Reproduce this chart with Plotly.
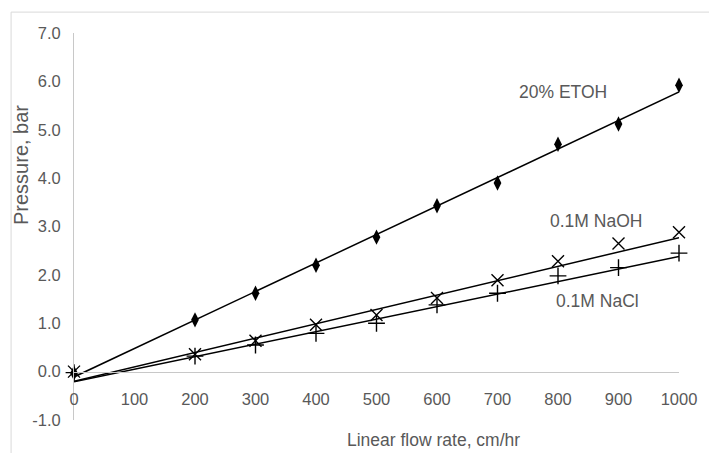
import numpy as np
import plotly.graph_objects as go

# ---- data ----
flow_rate = [0, 200, 300, 400, 500, 600, 700, 800, 900, 1000]          # cm/hr
etoh_20 = [-0.03, 1.07, 1.62, 2.20, 2.78, 3.43, 3.90, 4.70, 5.12, 5.92]  # bar
naoh_01 = [0.0, 0.36, 0.64, 0.97, 1.17, 1.52, 1.89, 2.28, 2.65, 2.88]
nacl_01 = [-0.02, 0.32, 0.55, 0.79, 1.00, 1.38, 1.62, 1.98, 2.15, 2.45]

# linear trendline coefficients (slope, intercept)
trend_etoh = (0.00589, -0.11)
trend_naoh = (0.00297, -0.20)
trend_nacl = (0.00259, -0.21)

series_names = ["20% ETOH", "0.1M NaOH", "0.1M NaCl"]
x_ticks = [0, 100, 200, 300, 400, 500, 600, 700, 800, 900, 1000]
y_ticks = [-1, 0, 1, 2, 3, 4, 5, 6, 7]

FONT = "Liberation Sans, Arial, sans-serif"
TXT = "#595959"

fig = go.Figure()

series = [
    (etoh_20, trend_etoh, dict(symbol="diamond-tall", size=11, color="black")),
    (naoh_01, trend_naoh, dict(symbol="x-thin-open", size=12, color="black",
                               line=dict(color="black", width=1.4))),
    (nacl_01, trend_nacl, dict(symbol="cross-thin-open", size=12, color="black",
                               line=dict(color="black", width=1.4))),
]

x_arr = np.array(flow_rate, dtype=float)
x_line = np.array([x_arr.min(), x_arr.max()])
for name, (vals, (m, b), mk) in zip(series_names, series):
    fig.add_trace(go.Scatter(x=x_line, y=m * x_line + b, mode="lines",
                             line=dict(color="black", width=1.5),
                             showlegend=False, hoverinfo="skip", cliponaxis=False))
    fig.add_trace(go.Scatter(x=flow_rate, y=vals, mode="markers", name=name,
                             marker=mk, showlegend=False, cliponaxis=False))

# series labels
label_pos = {"20% ETOH": (808, 5.78), "0.1M NaOH": (862, 3.12), "0.1M NaCl": (866, 1.45)}
for name in series_names:
    x, y = label_pos[name]
    fig.add_annotation(x=x, y=y, text=name, showarrow=False,
                       font=dict(family=FONT, size=17.5, color=TXT))

fig.update_layout(
    width=709, height=453,
    margin=dict(l=74, r=21, t=33, b=33),
    paper_bgcolor="white", plot_bgcolor="white",
    font=dict(family=FONT, size=16.5, color=TXT),
    showlegend=False,
    xaxis=dict(range=[0, 1000], tickvals=x_ticks, ticktext=[str(v) for v in x_ticks],
               showgrid=False, zeroline=False, showline=True, linecolor="#c8c8c8",
               linewidth=1, anchor="free", position=0.125, ticks="",
               ticklabelstandoff=13, tickfont=dict(size=16.5, color=TXT)),
    yaxis=dict(range=[-1, 7], tickvals=y_ticks, ticktext=[f"{v:.1f}" for v in y_ticks],
               showgrid=False, zeroline=False, showline=True, linecolor="#c8c8c8",
               linewidth=1, ticks="", ticklabelstandoff=9,
               tickfont=dict(size=16.5, color=TXT)),
    shapes=[dict(type="rect", xref="paper", yref="paper",
                 x0=-0.104, x1=1.2, y0=-0.3, y1=1.054,
                 line=dict(color="#d9d9d9", width=1), fillcolor="rgba(0,0,0,0)",
                 layer="below")],
)

# axis titles
fig.add_annotation(xref="paper", yref="paper", x=0.595, y=-0.052, yanchor="middle",
                   text="Linear flow rate, cm/hr", showarrow=False,
                   font=dict(family=FONT, size=17.5, color=TXT))
fig.add_annotation(xref="paper", yref="paper", x=-0.11, y=0.66, textangle=-90,
                   text="Pressure, bar", showarrow=False,
                   font=dict(family=FONT, size=20, color=TXT))

fig.write_html("out.html", config={"displayModeBar": False},
               post_script="document.body.style.margin='0';document.body.style.overflow='hidden';")
